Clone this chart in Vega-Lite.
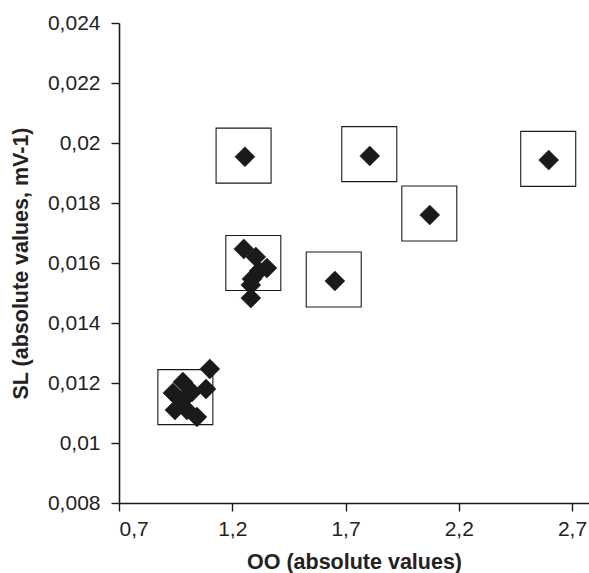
{
  "$schema": "https://vega.github.io/schema/vega-lite/v6.json",
  "width": 470,
  "height": 480,
  "autosize": {"type": "none"},
  "padding": {"left": 119, "top": 23, "right": 0, "bottom": 70},
  "background": "white",
  "config": {
    "view": {"stroke": null},
    "font": "Liberation Sans",
    "axis": {
      "grid": false,
      "domainColor": "#1a1a1a",
      "domainWidth": 1.6,
      "tickColor": "#1a1a1a",
      "tickWidth": 1.4,
      "tickSize": 8,
      "labelFont": "Liberation Sans",
      "labelFontSize": 21,
      "labelColor": "#222222",
      "titleFont": "Liberation Sans",
      "titleFontSize": 21.5,
      "titleFontWeight": "bold",
      "titleColor": "#222222"
    }
  },
  "datasets": {
    "points": [
      {"oo": 1.256, "sl": 0.01954},
      {"oo": 1.807, "sl": 0.01957},
      {"oo": 2.072, "sl": 0.0176},
      {"oo": 2.597, "sl": 0.01943},
      {"oo": 1.653, "sl": 0.0154},
      {"oo": 1.251, "sl": 0.01647},
      {"oo": 1.304, "sl": 0.0162},
      {"oo": 1.353, "sl": 0.01583},
      {"oo": 1.318, "sl": 0.01573},
      {"oo": 1.287, "sl": 0.01547},
      {"oo": 1.282, "sl": 0.01527},
      {"oo": 1.282, "sl": 0.01483},
      {"oo": 1.101, "sl": 0.01247},
      {"oo": 1.084, "sl": 0.0118},
      {"oo": 0.982, "sl": 0.01203},
      {"oo": 1.022, "sl": 0.0117},
      {"oo": 0.938, "sl": 0.01167},
      {"oo": 0.982, "sl": 0.01143},
      {"oo": 0.947, "sl": 0.0111},
      {"oo": 1.0, "sl": 0.0111},
      {"oo": 1.044, "sl": 0.01087}
    ],
    "boxes": [
      {"oo": 1.25, "sl": 0.01958},
      {"oo": 1.805, "sl": 0.01963},
      {"oo": 2.07, "sl": 0.01765},
      {"oo": 2.595, "sl": 0.01947},
      {"oo": 1.648, "sl": 0.01545},
      {"oo": 1.293, "sl": 0.016},
      {"oo": 0.993, "sl": 0.01153}
    ]
  },
  "encoding": {
    "x": {
      "field": "oo",
      "type": "quantitative",
      "scale": {"domain": [0.7, 2.775], "nice": false, "zero": false},
      "axis": {
        "title": "OO (absolute values)",
        "values": [0.7, 1.2, 1.7, 2.2, 2.7],
        "labelExpr": "replace(format(datum.value, '.1f'), '.', ',')",
        "labelPadding": 7,
        "titlePadding": 12
      }
    },
    "y": {
      "field": "sl",
      "type": "quantitative",
      "scale": {"domain": [0.008, 0.024], "nice": false, "zero": false},
      "axis": {
        "title": "SL (absolute values, mV-1)",
        "values": [0.008, 0.01, 0.012, 0.014, 0.016, 0.018, 0.02, 0.022, 0.024],
        "labelExpr": "replace(format(datum.value, '.3~f'), '.', ',')",
        "labelPadding": 11,
        "titlePadding": 15
      }
    }
  },
  "layer": [
    {
      "data": {"name": "boxes"},
      "mark": {"type": "point", "shape": "square", "size": 3025, "filled": false, "stroke": "#1a1a1a", "strokeWidth": 1.1, "opacity": 1}
    },
    {
      "data": {"name": "points"},
      "mark": {"type": "point", "shape": "diamond", "size": 400, "filled": true, "fill": "#1a1a1a", "stroke": "#1a1a1a", "strokeWidth": 0.5, "opacity": 1}
    }
  ]
}
